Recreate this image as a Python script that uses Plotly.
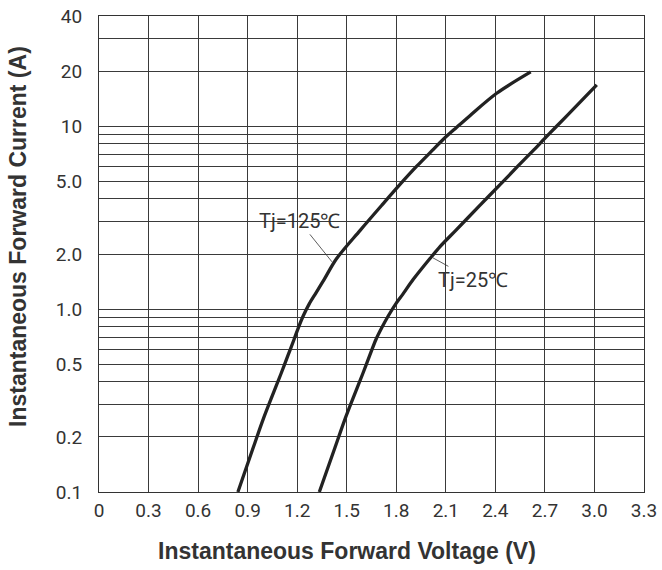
import plotly.graph_objects as go

# Forward voltage (V) vs forward current (A)
v_125 = [0.841, 0.934, 0.995, 1.055, 1.102, 1.146, 1.181, 1.207, 1.237, 1.273, 1.314, 1.362,
         1.439, 1.580, 1.714, 1.820, 1.924, 2.015, 2.085, 2.166, 2.246, 2.408, 2.614]
i_125 = [0.100, 0.175, 0.251, 0.346, 0.443, 0.563, 0.682, 0.790, 0.919, 1.068, 1.227, 1.445,
         1.889, 2.686, 3.711, 4.773, 6.038, 7.318, 8.480, 9.863, 11.41, 15.12, 19.78]

v_25 = [1.334, 1.429, 1.490, 1.550, 1.597, 1.641, 1.677, 1.712, 1.752, 1.797, 1.837, 1.901,
        2.004, 2.065, 2.159, 2.309, 2.427, 2.536, 2.627, 2.695, 2.765, 2.834, 3.014]
i_25 = [0.100, 0.175, 0.251, 0.346, 0.443, 0.563, 0.682, 0.790, 0.919, 1.068, 1.196, 1.445,
        1.889, 2.196, 2.686, 3.711, 4.773, 6.038, 7.318, 8.480, 9.863, 11.41, 16.80]

x_ticks = [0, 0.3, 0.6, 0.9, 1.2, 1.5, 1.8, 2.1, 2.4, 2.7, 3.0, 3.3]
x_labels = ["0", "0.3", "0.6", "0.9", "1.2", "1.5", "1.8", "2.1", "2.4", "2.7", "3.0", "3.3"]
y_ticks = [0.1, 0.2, 0.5, 1, 2, 5, 10, 20, 40]
y_labels = ["0.1", "0.2", "0.5", "1.0", "2.0", "5.0", "10", "20", "40"]
y_minor = [0.3, 0.4, 0.6, 0.7, 0.8, 0.9, 3, 4, 6, 7, 8, 9, 30]

tick_font = dict(family="Liberation Sans Narrow, Arial Narrow, Roboto, sans-serif",
                 size=19, color="#333333")
title_font = dict(family="Liberation Sans, Arial, sans-serif", size=23, color="#333333", weight="bold")
label_font = dict(family="Roboto, Liberation Sans, Arial, sans-serif", size=20, color="#333333")

fig = go.Figure()
fig.add_trace(go.Scatter(x=v_125, y=i_125, mode="lines",
                         line=dict(color="#222222", width=3.3, shape="spline", smoothing=0.9),
                         name="Tj=125℃", showlegend=False))
fig.add_trace(go.Scatter(x=v_25, y=i_25, mode="lines",
                         line=dict(color="#222222", width=3.3, shape="spline", smoothing=0.9),
                         name="Tj=25℃", showlegend=False))

fig.update_xaxes(range=[0, 3.3], tickmode="array", tickvals=x_ticks, ticktext=x_labels,
                 showgrid=True, gridcolor="#3a3a3a", gridwidth=1, zeroline=False,
                 showline=True, mirror=True, linecolor="#333333", linewidth=1.2,
                 ticks="", tickfont=tick_font, ticklabelstandoff=1, automargin=False)
fig.update_yaxes(type="log", range=[-1, 1.60206], tickmode="array", tickvals=y_ticks, ticktext=y_labels,
                 showgrid=True, gridcolor="#3a3a3a", gridwidth=1, zeroline=False,
                 showline=True, mirror=True, linecolor="#333333", linewidth=1.2,
                 ticks="", tickfont=tick_font, ticklabelstandoff=12, automargin=False,
                 minor=dict(tickmode="array", tickvals=y_minor, showgrid=True,
                            gridcolor="#3a3a3a", gridwidth=1, ticks=""))

# annotation y on a log axis is given in log10 units
fig.add_annotation(x=1.411, y=0.258, text="Tj=125℃", showarrow=True, arrowhead=0, arrowwidth=0.8,
                   arrowcolor="#333333", ax=-33, ay=-41, font=label_font)
fig.add_annotation(x=2.022, y=0.280, text="Tj=25℃", showarrow=True, arrowhead=0, arrowwidth=0.8,
                   arrowcolor="#333333", ax=40, ay=22, font=label_font)

fig.add_annotation(xref="paper", yref="paper", x=(347 - 99) / 545, y=-(551 - 492) / 476,
                   text="Instantaneous Forward Voltage (V)", showarrow=False, font=title_font,
                   xanchor="center", yanchor="middle")
fig.add_annotation(xref="paper", yref="paper", x=-(99 - 18) / 545, y=(492 - 237) / 476,
                   text="Instantaneous Forward Current (A)", showarrow=False, font=title_font,
                   textangle=-90, xanchor="center", yanchor="middle")

fig.update_layout(width=662, height=570, margin=dict(l=99, r=18, t=16, b=78, autoexpand=False),
                  plot_bgcolor="white", paper_bgcolor="white")

fig.write_html("out.html", config={"displayModeBar": False},
               post_script="document.body.style.margin='0';document.body.style.overflow='hidden';")
